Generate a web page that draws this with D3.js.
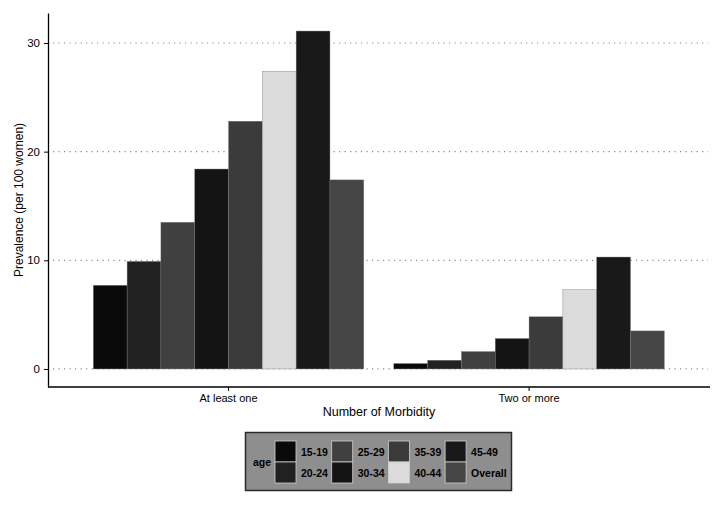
<!DOCTYPE html>
<html>
<head>
<meta charset="utf-8">
<script src="https://cdn.jsdelivr.net/npm/d3@7"></script>
<style>
  body { margin: 0; background: #fff; }
  text { font-family: "Liberation Sans", Arial, Helvetica, sans-serif; fill: #000; }
</style>
</head>
<body>
<svg id="chart" width="723" height="505"></svg>
<script>
// data
var groups = ["At least one", "Two or more"];
var ages = ["15-19", "20-24", "25-29", "30-34", "35-39", "40-44", "45-49", "Overall"];
var atLeastOne = [7.7, 9.9, 13.5, 18.4, 22.8, 27.4, 31.1, 17.4];
var twoOrMore = [0.5, 0.8, 1.6, 2.8, 4.8, 7.3, 10.3, 3.5];
var yTicks = [0, 10, 20, 30];
var colours = ["#0a0a0a", "#212121", "#404040", "#141414", "#3b3b3b", "#dbdbdb", "#191919", "#454545"];

var series = [atLeastOne, twoOrMore];

var svg = d3.select("#chart");
var plotLeft = 48, plotRight = 710, plotTop = 13, plotBottom = 387;

var x0 = d3.scaleBand().domain(groups).range([93.3, 664.3]).paddingInner(0.1);
var x1 = d3.scaleBand().domain(ages).range([0, x0.bandwidth()]);
var y = d3.scaleLinear().domain([-1.66, 32.76]).range([plotBottom, plotTop]);
var colour = d3.scaleOrdinal().domain(ages).range(colours);

// dotted grid
svg.append("g").selectAll("line")
  .data(yTicks)
  .enter().append("line")
    .attr("x1", plotLeft + 5).attr("x2", plotRight - 2)
    .attr("y1", function(d) { return y(d); })
    .attr("y2", function(d) { return y(d); })
    .attr("stroke", "#8a8a8a")
    .attr("stroke-width", 1.2)
    .attr("stroke-dasharray", "1.2,4.3");

// bars
var g = svg.append("g");
groups.forEach(function(grp, gi) {
  g.append("g")
    .attr("transform", "translate(" + x0(grp) + ",0)")
    .selectAll("rect")
    .data(series[gi])
    .enter().append("rect")
      .attr("x", function(d, i) { return x1(ages[i]); })
      .attr("y", function(d) { return y(d); })
      .attr("width", x1.bandwidth())
      .attr("height", function(d) { return y(0) - y(d); })
      .attr("fill", function(d, i) { return colour(ages[i]); })
      .attr("stroke", "#7a7a7a")
      .attr("stroke-width", 0.4);
});

// y axis
var yAxis = svg.append("g")
  .attr("transform", "translate(" + plotLeft + ",0)")
  .call(d3.axisLeft(y).tickValues(yTicks).tickSize(4).tickPadding(4).tickSizeOuter(0));
yAxis.select(".domain").attr("stroke", "#000").attr("stroke-width", 1.3);
yAxis.selectAll(".tick line").attr("stroke", "#000");
yAxis.selectAll(".tick text").style("font-size", "11.5px").style("font-family", "Liberation Sans, Arial, sans-serif");

// x axis
var xAxis = svg.append("g")
  .attr("transform", "translate(0," + plotBottom + ")");
xAxis.append("line")
  .attr("x1", plotLeft).attr("x2", plotRight)
  .attr("stroke", "#000").attr("stroke-width", 1.3);
xAxis.selectAll(".xt")
  .data(groups)
  .enter().append("line")
    .attr("x1", function(d) { return x0(d) + x0.bandwidth() / 2; })
    .attr("x2", function(d) { return x0(d) + x0.bandwidth() / 2; })
    .attr("y1", 0).attr("y2", 4)
    .attr("stroke", "#000");
xAxis.selectAll(".xl")
  .data(groups)
  .enter().append("text")
    .attr("x", function(d) { return x0(d) + x0.bandwidth() / 2; })
    .attr("y", 14.5)
    .attr("text-anchor", "middle")
    .style("font-size", "11px")
    .text(function(d) { return d; });

// axis titles
svg.append("text")
  .attr("x", (plotLeft + plotRight) / 2).attr("y", 416)
  .attr("text-anchor", "middle")
  .style("font-size", "12.5px")
  .text("Number of Morbidity");
svg.append("text")
  .attr("transform", "translate(23," + ((plotTop + plotBottom) / 2) + ") rotate(-90)")
  .attr("text-anchor", "middle")
  .style("font-size", "12px")
  .text("Prevalence (per 100 women)");

// legend
var lg = svg.append("g");
lg.append("rect")
  .attr("x", 245.5).attr("y", 432.5).attr("width", 266).attr("height", 58)
  .attr("fill", "#8e8e8e").attr("stroke", "#2a2a2a").attr("stroke-width", 1.5);
lg.append("text")
  .attr("x", 253).attr("y", 466)
  .style("font-size", "10.5px").style("font-weight", "bold")
  .text("age");
var keys = lg.selectAll(".key")
  .data(ages)
  .enter().append("g")
    .attr("transform", function(d, i) {
      var col = Math.floor(i / 2), row = i % 2;
      return "translate(" + (275 + col * 56.7) + "," + (441 + row * 21) + ")";
    });
keys.append("rect")
  .attr("width", 21).attr("height", 21)
  .attr("fill", function(d) { return colour(d); })
  .attr("stroke", "#d0d0d0").attr("stroke-width", 0.8);
keys.append("text")
  .attr("x", 26).attr("y", 14.5)
  .style("font-size", "10.5px").style("font-weight", "bold")
  .text(function(d) { return d; });
</script>
</body>
</html>
